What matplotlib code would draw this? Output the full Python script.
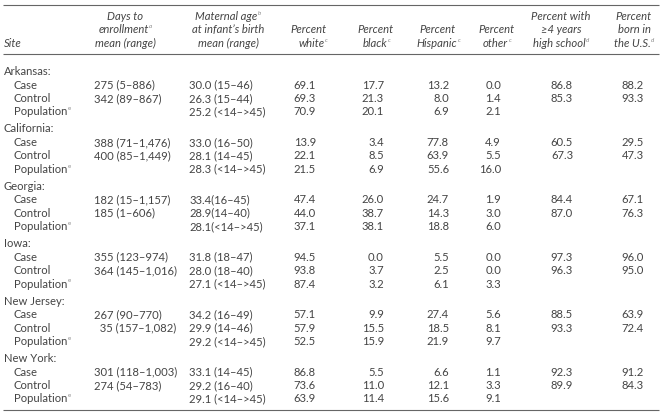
import matplotlib
matplotlib.use("Agg")
import matplotlib.pyplot as plt

# ---- data ----
sites = ["Arkansas", "California", "Georgia", "Iowa", "New Jersey", "New York"]
groups = ["Case", "Control", "Population"]

days = [["275 (5\u2013886)", "342 (89\u2013867)", ""],
        ["388 (71\u20131,476)", "400 (85\u20131,449)", ""],
        ["182 (15\u20131,157)", "185 (1\u2013606)", ""],
        ["355 (123\u2013974)", "364 (145\u20131,016)", ""],
        ["267 (90\u2013770)", "  35 (157\u20131,082)", ""],
        ["301 (118\u20131,003)", "274 (54\u2013783)", ""]]
age = [["30.0 (15\u201346)", "26.3 (15\u201344)", "25.2 (<14\u2013>45)"],
       ["33.0 (16\u201350)", "28.1 (14\u201345)", "28.3 (<14\u2013>45)"],
       ["33.4(16\u201345)", "28.9(14\u201340)", "28.1(<14\u2013>45)"],
       ["31.8 (18\u201347)", "28.0 (18\u201340)", "27.1 (<14\u2013>45)"],
       ["34.2 (16\u201349)", "29.9 (14\u201346)", "29.2 (<14\u2013>45)"],
       ["33.1 (14\u201345)", "29.2 (16\u201340)", "29.1 (<14\u2013>45)"]]
white = [[69.1, 69.3, 70.9], [13.9, 22.1, 21.5], [47.4, 44.0, 37.1],
         [94.5, 93.8, 87.4], [57.1, 57.9, 52.5], [86.8, 73.6, 63.9]]
black = [[17.7, 21.3, 20.1], [3.4, 8.5, 6.9], [26.0, 38.7, 38.1],
         [0.0, 3.7, 3.2], [9.9, 15.5, 15.9], [5.5, 11.0, 11.4]]
hispanic = [[13.2, 8.0, 6.9], [77.8, 63.9, 55.6], [24.7, 14.3, 18.8],
            [5.5, 2.5, 6.1], [27.4, 18.5, 21.9], [6.6, 12.1, 15.6]]
other = [[0.0, 1.4, 2.1], [4.9, 5.5, 16.0], [1.9, 3.0, 6.0],
         [0.0, 0.0, 3.3], [5.6, 8.1, 9.7], [1.1, 3.3, 9.1]]
highschool = [[86.8, 85.3, None], [60.5, 67.3, None], [84.4, 87.0, None],
              [97.3, 96.3, None], [88.5, 93.3, None], [92.3, 89.9, None]]
born_us = [[88.2, 93.3, None], [29.5, 47.3, None], [67.1, 76.3, None],
           [96.0, 95.0, None], [63.9, 72.4, None], [91.2, 84.3, None]]

# header: (x, align, [(text, superscript), ...])
headers = [
    (4, "left", [("", None), ("", None), ("Site", None)]),
    (125, "center", [("Days to", None), ("enrollment", "a"), ("mean (range)", None)]),
    (228, "center", [("Maternal age", "b"), ("at infant\u2019s birth", None), ("mean (range)", None)]),
    (327, "right", [("", None), ("Percent", None), ("white", "c")]),
    (376, "center", [("", None), ("Percent", None), ("black", "c")]),
    (438, "center", [("", None), ("Percent", None), ("Hispanic", "c")]),
    (497, "center", [("", None), ("Percent", None), ("other", "c")]),
    (561, "center", [("Percent with", None), ("\u22654 years", None), ("high school", "d")]),
    (634, "center", [("Percent", None), ("born in", None), ("the U.S.", "d")]),
]

FS = 8.1
TXT = "#444444"
SUPC = "#888888"

fig = plt.figure(figsize=(6.67, 4.17), dpi=100)
ax = fig.add_axes([0, 0, 1, 1])
ax.set_xlim(0, 667)
ax.set_ylim(417, 0)
ax.axis("off")
plt.rcParams["font.family"] = ["Lato", "DejaVu Sans"]
renderer = fig.canvas.get_renderer()


def width(s, size, style):
    if not s:
        return 0.0
    t = ax.text(0, 0, s, fontsize=size, style=style)
    w = t.get_window_extent(renderer).width
    t.remove()
    return w


def put(x, y, s, sup=None, ha="left", style="normal"):
    w1 = width(s, FS, style)
    w2 = width(sup, FS * 0.55, style) if sup else 0
    tot = w1 + w2
    if ha == "center":
        x0 = x - tot / 2
    elif ha == "right":
        x0 = x - tot
    else:
        x0 = x
    ax.text(x0, y, s, fontsize=FS, style=style, color=TXT, ha="left", va="center")
    if sup:
        ax.text(x0 + w1 + 0.5, y - 3, sup, fontsize=FS * 0.55, style=style,
                color=SUPC, ha="left", va="center")


# rules
for yl in [4.5, 53.5, 409.5]:
    ax.plot([3, 659], [yl, yl], color="#666666", lw=0.8, solid_capstyle="butt")

# header lines
head_y = [16.5, 29.8, 43]
for x, al, lines in headers:
    for (s, sup), yy in zip(lines, head_y):
        if s:
            put(x, yy, s, sup, ha=al, style="italic")

# body
row_h = 13.4
period = 57.4
num_cols = [(316, white), (384, black), (449, hispanic), (501, other),
            (573, highschool), (644, born_us)]
for i, site in enumerate(sites):
    y_head = 71.6 + i * period
    put(4, y_head, site + ":")
    for j, g in enumerate(groups):
        yy = y_head + (j + 1) * row_h
        if g == "Population":
            put(14, yy, g, "e")
        else:
            put(14, yy, g)
        if days[i][j]:
            put(94, yy, days[i][j])
        put(189, yy, age[i][j])
        for xr, arr in num_cols:
            v = arr[i][j]
            if v is not None:
                put(xr, yy, f"{v:.1f}", ha="right")

fig.savefig("out.png", dpi=100)
